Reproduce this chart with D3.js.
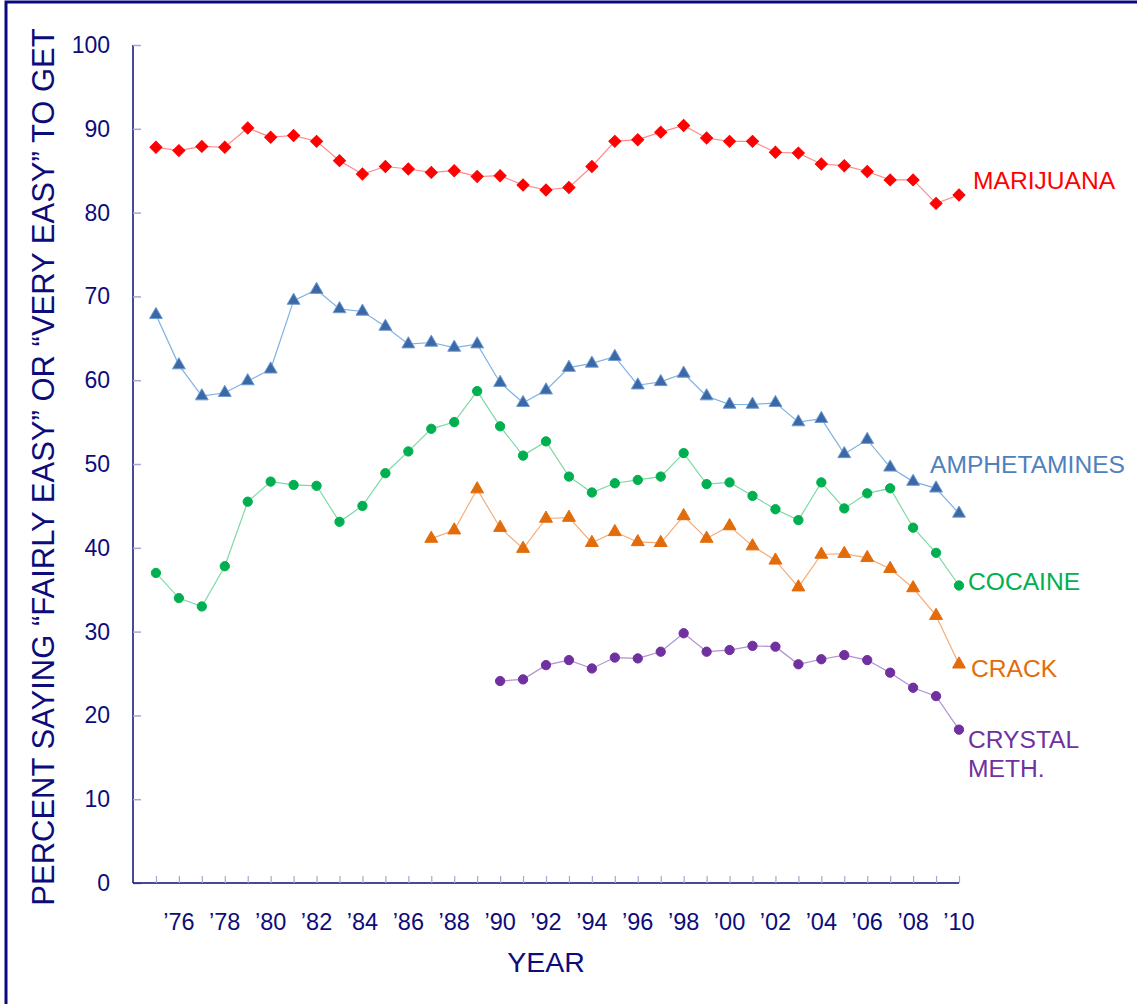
<!DOCTYPE html>
<html>
<head>
<meta charset="utf-8">
<script src="https://cdn.jsdelivr.net/npm/d3@7/dist/d3.min.js"></script>
<style>
  html, body { margin: 0; padding: 0; background: #ffffff; }
  svg { display: block; font-family: "Liberation Sans", Arial, sans-serif; }
</style>
</head>
<body>
<svg id="chart" width="1137" height="1004"></svg>
<script>
// Perceived availability among 12th graders, percent saying "fairly easy" or "very easy" to get
const years = d3.range(1975, 2011);

const marijuana = [87.8, 87.4, 87.9, 87.8, 90.1, 89.0, 89.2, 88.5, 86.2, 84.6,
  85.5, 85.2, 84.8, 85.0, 84.3, 84.4, 83.3, 82.7, 83.0, 85.5,
  88.5, 88.7, 89.6, 90.4, 88.9, 88.5, 88.5, 87.2, 87.1, 85.8,
  85.6, 84.9, 83.9, 83.9, 81.1, 82.1];

const amphetamines = [67.8, 61.8, 58.1, 58.5, 59.9, 61.3, 69.5, 70.8, 68.5, 68.2,
  66.4, 64.3, 64.5, 63.9, 64.3, 59.7, 57.3, 58.8, 61.5, 62.0,
  62.8, 59.4, 59.8, 60.8, 58.1, 57.1, 57.1, 57.3, 55.0, 55.4,
  51.2, 52.9, 49.6, 47.9, 47.1, 44.1];

const cocaine = [37.0, 34.0, 33.0, 37.8, 45.5, 47.9, 47.5, 47.4, 43.1, 45.0,
  48.9, 51.5, 54.2, 55.0, 58.7, 54.5, 51.0, 52.7, 48.5, 46.6,
  47.7, 48.1, 48.5, 51.3, 47.6, 47.8, 46.2, 44.6, 43.3, 47.8,
  44.7, 46.5, 47.1, 42.4, 39.4, 35.5];

// Crack is surveyed from 1987, crystal meth from 1990
const crackYears = d3.range(1987, 2011);
const crack = [41.1, 42.1, 47.0, 42.4, 39.9, 43.5, 43.6, 40.6, 41.9, 40.7,
  40.6, 43.8, 41.1, 42.6, 40.2, 38.5, 35.3, 39.2, 39.3, 38.8,
  37.5, 35.2, 31.9, 26.1];

const methYears = d3.range(1990, 2011);
const crystalMeth = [24.1, 24.3, 26.0, 26.6, 25.6, 26.9, 26.8, 27.6, 29.8, 27.6,
  27.8, 28.3, 28.2, 26.1, 26.7, 27.2, 26.6, 25.1, 23.3, 22.3, 18.3];

const yTicks = d3.range(0, 101, 10);
const xLabelYears = d3.range(1976, 2011, 2);

const navy = "#0c0c7a";

const series = [
  { name: ["MARIJUANA"], years: years, values: marijuana, symbol: "diamond",
    fill: "#ff0000", stroke: "#ff0000", line: "#ff8a8a", color: "#ff0000",
    dx: 14, dy: -15 },
  { name: ["AMPHETAMINES"], years: years, values: amphetamines, symbol: "triangle",
    fill: "#3b68a6", stroke: "#6f9bd0", line: "#7fb2e2", color: "#4f81bd",
    dx: -29, dy: -49 },
  { name: ["COCAINE"], years: years, values: cocaine, symbol: "circle",
    fill: "#00b050", stroke: "#00b050", line: "#7fd9a4", color: "#00b050",
    dx: 9, dy: -4 },
  { name: ["CRACK"], years: crackYears, values: crack, symbol: "triangle",
    fill: "#e36c0a", stroke: "#e36c0a", line: "#f4ad7a", color: "#e36c0a",
    dx: 12, dy: 4 },
  { name: ["CRYSTAL", "METH."], years: methYears, values: crystalMeth, symbol: "circle",
    fill: "#7030a0", stroke: "#7030a0", line: "#b18fd0", color: "#7030a0",
    dx: 9, dy: 10 }
];

const svg = d3.select("#chart");

// outer frame
svg.append("rect")
  .attr("x", 6).attr("y", 2)
  .attr("width", 1200).attr("height", 1100)
  .attr("fill", "none")
  .attr("stroke", "#0a0a80")
  .attr("stroke-width", 3);

const x = d3.scaleLinear().domain([1974, 2010]).range([133, 959]);
const y = d3.scaleLinear().domain([0, 100]).range([883, 45]);

// y axis
const yAxis = svg.append("g")
  .attr("transform", `translate(${x(1974)},0)`)
  .call(d3.axisRight(y).tickValues(yTicks).tickSize(8).tickFormat(""));
yAxis.select(".domain").attr("stroke", navy).attr("stroke-width", 1.5)
  .attr("d", `M0,${y(100)}V${y(0)}`);
yAxis.selectAll(".tick line").attr("stroke", "#a7a7d0").attr("stroke-width", 1.5);

svg.append("g").selectAll("text")
  .data(yTicks)
  .join("text")
  .attr("x", 110)
  .attr("y", d => y(d))
  .attr("dy", "0.35em")
  .attr("text-anchor", "end")
  .attr("font-size", 23)
  .attr("fill", navy)
  .text(d => d);

// x axis
const xAxis = svg.append("g")
  .attr("transform", `translate(0,${y(0)})`)
  .call(d3.axisTop(x).tickValues(years).tickSize(7).tickFormat(""));
xAxis.select(".domain").attr("stroke", navy).attr("stroke-width", 1.5)
  .attr("d", `M${x(1974)},0H${x(2010)}`);
xAxis.selectAll(".tick line").attr("stroke", "#a7a7d0").attr("stroke-width", 1.2);

svg.append("g").selectAll("text")
  .data(xLabelYears)
  .join("text")
  .attr("x", d => x(d))
  .attr("y", 930)
  .attr("text-anchor", "middle")
  .attr("font-size", 23.5)
  .attr("fill", navy)
  .text(d => "\u2019" + String(d).slice(2));

// axis titles
svg.append("text")
  .attr("x", 546).attr("y", 972)
  .attr("text-anchor", "middle")
  .attr("font-size", 28.5)
  .attr("fill", navy)
  .text("YEAR");

svg.append("text")
  .attr("transform", `translate(54,467) rotate(-90)`)
  .attr("text-anchor", "middle")
  .attr("font-size", 31)
  .attr("fill", navy)
  .text("PERCENT SAYING \u201CFAIRLY EASY\u201D OR \u201CVERY EASY\u201D TO GET");

// series lines, markers and end labels
const line = d3.line().x(d => x(d[0])).y(d => y(d[1]));
const symbols = {
  diamond: d3.symbol().type(d3.symbolSquare).size(72),
  triangle: d3.symbol().type(d3.symbolTriangle).size(72),
  circle: d3.symbol().type(d3.symbolCircle).size(68)
};

series.forEach(s => {
  const pts = s.years.map((yr, i) => [yr, s.values[i]]);
  const g = svg.append("g");
  g.append("path")
    .attr("d", line(pts))
    .attr("fill", "none")
    .attr("stroke", s.line)
    .attr("stroke-width", 1.2);
  g.selectAll("path.mark")
    .data(pts)
    .join("path")
    .attr("class", "mark")
    .attr("d", symbols[s.symbol])
    .attr("transform", d => `translate(${x(d[0])},${y(d[1])})` + (s.symbol === "diamond" ? " rotate(45)" : ""))
    .attr("fill", s.fill)
    .attr("stroke", s.stroke)
    .attr("stroke-width", 1);

  const last = pts[pts.length - 1];
  const label = g.append("text")
    .attr("x", x(last[0]) + s.dx)
    .attr("y", y(last[1]) + s.dy)
    .attr("font-size", 24.6)
    .attr("fill", s.color);
  s.name.forEach((t, i) => {
    label.append("tspan")
      .attr("x", x(last[0]) + s.dx)
      .attr("dy", i === 0 ? "0.35em" : "1.18em")
      .text(t);
  });
});
</script>
</body>
</html>
